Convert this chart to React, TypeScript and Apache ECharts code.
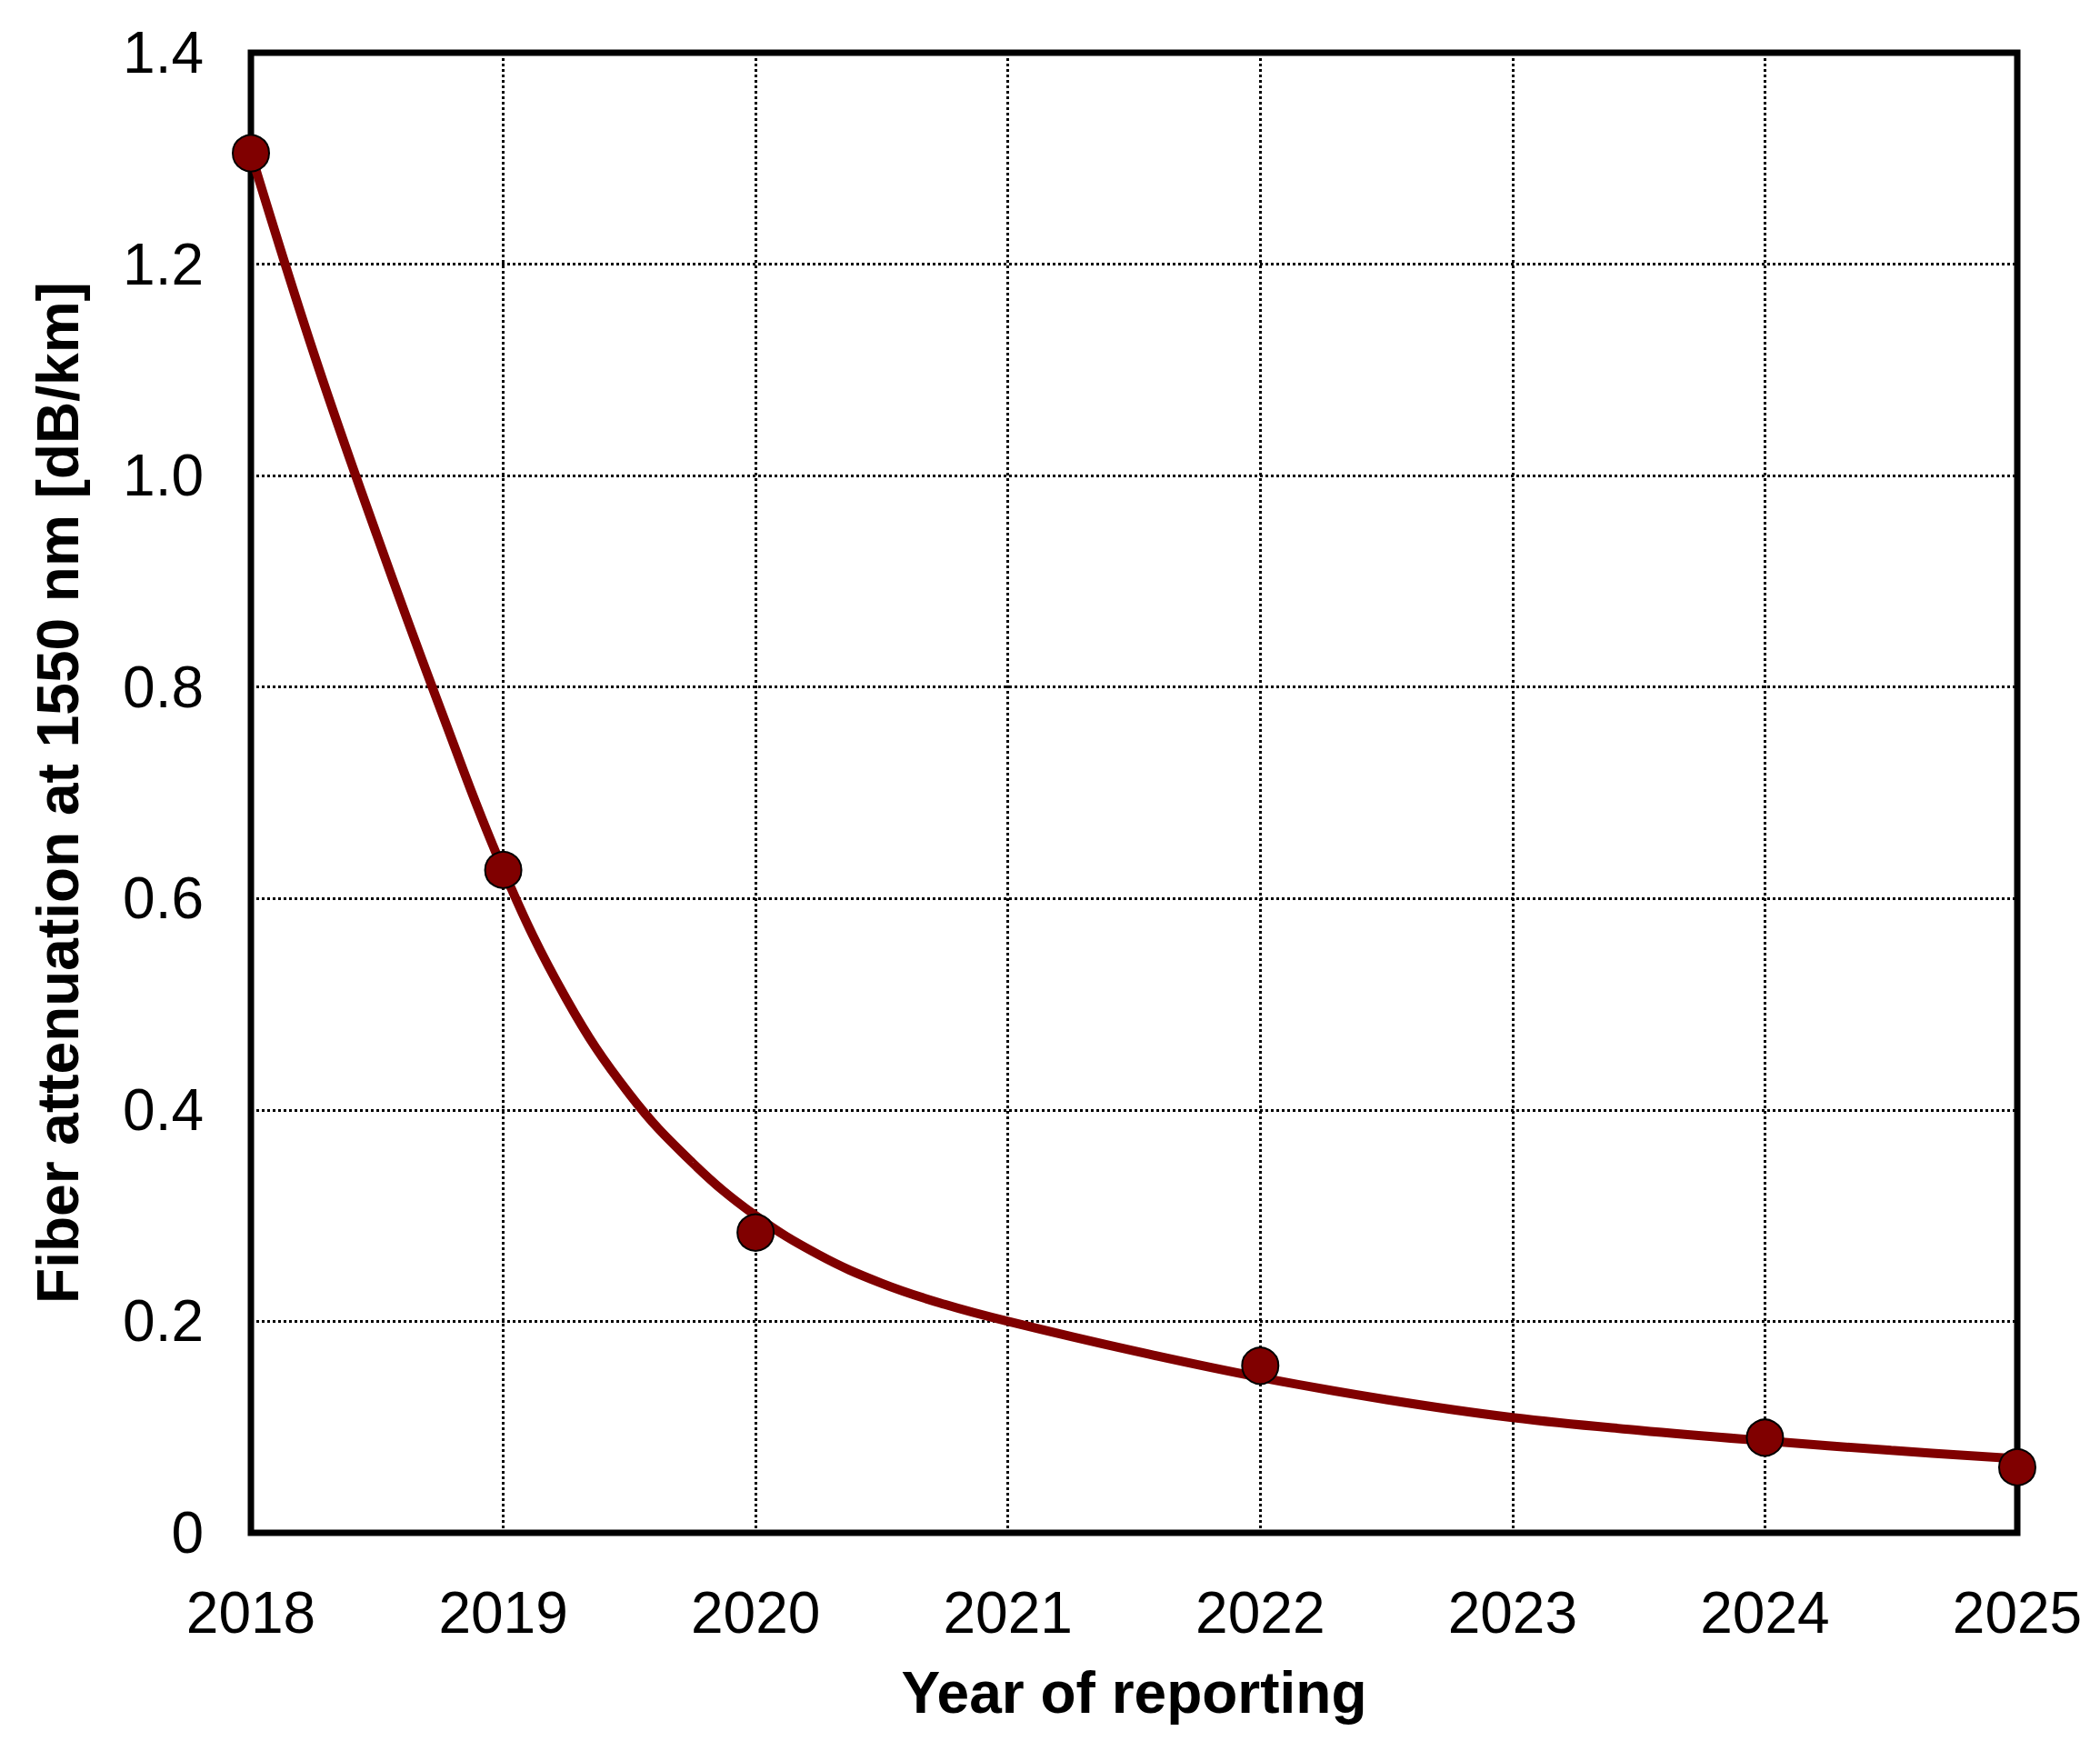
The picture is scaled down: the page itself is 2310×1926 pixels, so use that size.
import React, { useEffect, useRef } from "react";
import * as echarts from "echarts";

// Measured data points (year of reporting, attenuation dB/km)
const pointYears = [2018, 2019, 2020, 2022, 2024, 2025];
const pointValues = [1.305, 0.627, 0.284, 0.158, 0.09, 0.062];

// Fitted trend curve
const fitYears = [
  2018, 2018.25, 2018.5, 2018.75, 2019, 2019.25, 2019.5, 2019.75, 2020, 2020.25,
  2020.5, 2020.75, 2021, 2021.5, 2022, 2022.5, 2023, 2023.5, 2024, 2024.5, 2025,
];
const fitValues = [
  1.305, 1.115, 0.943, 0.78, 0.627, 0.505, 0.415, 0.35, 0.3, 0.263,
  0.236, 0.216, 0.2, 0.172, 0.147, 0.126, 0.109, 0.097, 0.087, 0.078, 0.07,
];

const xTicks = [2018, 2019, 2020, 2021, 2022, 2023, 2024, 2025];
const yTicks = [0, 0.2, 0.4, 0.6, 0.8, 1.0, 1.2, 1.4];

const xAxisTitle = "Year of reporting";
const yAxisTitle = "Fiber attenuation at 1550 nm [dB/km]";

const FONT = "'Liberation Sans', Arial, Helvetica, sans-serif";
const RED = "#800000";

export default function App() {
  const ref = useRef<HTMLDivElement>(null);

  useEffect(() => {
    if (!ref.current) return;
    const chart = echarts.init(ref.current, null, { renderer: "svg" });
    const gridLine = { show: true, lineStyle: { color: "#000", width: 3, type: [3, 3] as any } };
    chart.setOption({
      animation: false,
      backgroundColor: "#fff",
      grid: {
        left: 276,
        right: 91,
        top: 58,
        bottom: 240,
        show: true,
        borderColor: "#000",
        borderWidth: 7,
        backgroundColor: "transparent",
      },
      xAxis: {
        type: "value",
        min: xTicks[0],
        max: xTicks[xTicks.length - 1],
        interval: 1,
        axisLine: { show: false },
        axisTick: { show: false },
        splitLine: gridLine,
        axisLabel: {
          margin: 56,
          fontSize: 64,
          fontFamily: FONT,
          color: "#000",
          formatter: (v: number) => String(v),
        },
        name: xAxisTitle,
        nameLocation: "middle",
        nameGap: 144,
        nameTextStyle: { fontSize: 64, fontWeight: "bold", fontFamily: FONT, color: "#000" },
      },
      yAxis: {
        type: "value",
        min: yTicks[0],
        max: yTicks[yTicks.length - 1],
        interval: 0.2,
        axisLine: { show: false },
        axisTick: { show: false },
        splitLine: gridLine,
        axisLabel: {
          margin: 52,
          fontSize: 64,
          fontFamily: FONT,
          color: "#000",
          formatter: (v: number) => (Math.abs(v) < 1e-9 ? "0" : v.toFixed(1)),
        },
        name: yAxisTitle,
        nameLocation: "middle",
        nameGap: 180,
        nameTextStyle: { fontSize: 64, fontWeight: "bold", fontFamily: FONT, color: "#000" },
      },
      series: [
        {
          type: "line",
          data: fitYears.map((x, i) => [x, fitValues[i]]),
          smooth: 0.4,
          showSymbol: false,
          symbol: "none",
          clip: false,
          lineStyle: { color: RED, width: 10 },
          z: 3,
        },
        {
          type: "scatter",
          data: pointYears.map((x, i) => [x, pointValues[i]]),
          symbol: "circle",
          symbolSize: 40,
          clip: false,
          itemStyle: { color: RED, borderColor: "#000", borderWidth: 2, opacity: 1 },
          z: 4,
        },
      ],
    });
    return () => chart.dispose();
  }, []);

  return (
    <div
      ref={ref}
      style={{ position: "absolute", left: 0, top: 0, width: 2310, height: 1926, background: "#fff" }}
    />
  );
}
